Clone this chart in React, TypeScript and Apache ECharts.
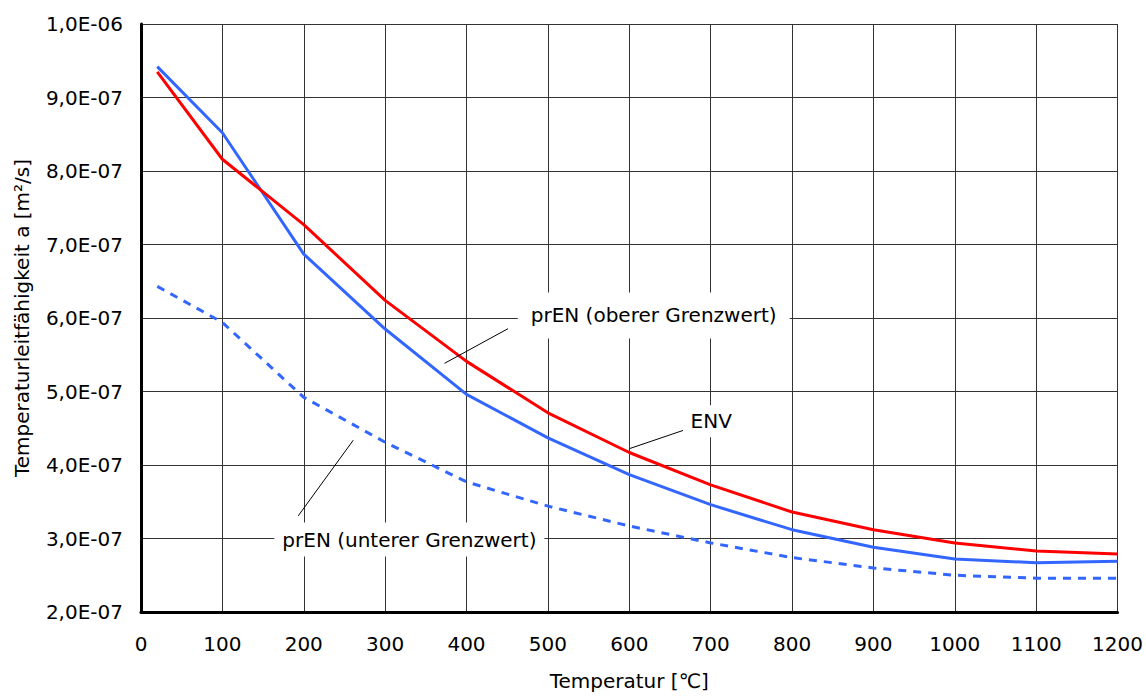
import React, { useEffect, useRef } from "react";
import * as echarts from "echarts";

const temperatures = [20, 100, 200, 300, 400, 500, 600, 700, 800, 900, 1000, 1100, 1200];
const envValues = [9.35e-7, 8.16e-7, 7.27e-7, 6.24e-7, 5.41e-7, 4.71e-7, 4.17e-7, 3.73e-7, 3.36e-7, 3.12e-7, 2.94e-7, 2.83e-7, 2.79e-7];
const prenUpperValues = [9.42e-7, 8.52e-7, 6.87e-7, 5.85e-7, 4.96e-7, 4.37e-7, 3.87e-7, 3.46e-7, 3.12e-7, 2.88e-7, 2.72e-7, 2.67e-7, 2.69e-7];
const prenLowerValues = [6.43e-7, 5.94e-7, 4.92e-7, 4.31e-7, 3.77e-7, 3.44e-7, 3.17e-7, 2.94e-7, 2.74e-7, 2.6e-7, 2.5e-7, 2.46e-7, 2.46e-7];

const seriesNames = ["ENV", "prEN (oberer Grenzwert)", "prEN (unterer Grenzwert)"];

// annotation anchors in data units: [textX, textY, lineFromX, lineFromY, lineToX, lineToY]
const annotationUpper = [630, 6.035e-7, 451, 5.855e-7, 373, 5.383e-7];
const annotationEnv = [700.7, 4.595e-7, 666, 4.47e-7, 600.6, 4.224e-7];
const annotationLower = [329.8, 2.985e-7, 193.2, 3.308e-7, 260.8, 4.337e-7];

const FONT = '"DejaVu Sans", "Liberation Sans", Arial, sans-serif';

function formatSci(v: number): string {
  const s = v.toExponential(1);
  const [m, e] = s.split("e");
  const exp = parseInt(e, 10);
  return m.replace(".", ",") + "E" + (exp < 0 ? "-" : "+") + String(Math.abs(exp)).padStart(2, "0");
}

export default function App() {
  const ref = useRef<HTMLDivElement>(null);

  useEffect(() => {
    if (!ref.current) return;
    const chart = echarts.init(ref.current, undefined, { renderer: "svg" });
    const pair = (xs: number[], ys: number[]) => xs.map((x, i) => [x, ys[i]]);
    chart.setOption({
      animation: false,
      backgroundColor: "#ffffff",
      grid: { left: 141, right: 28, top: 24, bottom: 83, containLabel: false },
      xAxis: {
        type: "value",
        min: 0,
        max: 1200,
        interval: 100,
        name: "Temperatur [℃]",
        nameLocation: "middle",
        nameGap: 59,
        nameTextStyle: { fontSize: 20, fontFamily: FONT, color: "#000" },
        axisLine: { show: true, lineStyle: { color: "#000", width: 3 } },
        axisTick: { show: false },
        axisLabel: {
          fontSize: 20,
          fontFamily: FONT,
          color: "#000",
          margin: 22,
          formatter: (v: number) => String(Math.round(v)),
        },
        splitLine: { show: true, lineStyle: { color: "#333", width: 1 } },
      },
      yAxis: {
        type: "value",
        min: 2e-7,
        max: 1e-6,
        interval: 1e-7,
        name: "Temperaturleitfähigkeit a [m²/s]",
        nameLocation: "middle",
        nameGap: 109,
        nameTextStyle: { fontSize: 20, fontFamily: FONT, color: "#000" },
        axisLine: { show: true, lineStyle: { color: "#000", width: 3 } },
        axisTick: { show: false },
        axisLabel: { fontSize: 20, fontFamily: FONT, color: "#000", margin: 18, formatter: formatSci },
        splitLine: { show: true, lineStyle: { color: "#333", width: 1 } },
      },
      series: [
        {
          name: seriesNames[2],
          type: "line",
          data: pair(temperatures, prenLowerValues),
          symbol: "none",
          lineStyle: { color: "#3366ff", width: 3, type: [8, 7] },
          itemStyle: { color: "#3366ff" },
          z: 2,
        },
        {
          name: seriesNames[1],
          type: "line",
          data: pair(temperatures, prenUpperValues),
          symbol: "none",
          lineStyle: { color: "#3366ff", width: 3 },
          itemStyle: { color: "#3366ff" },
          z: 3,
        },
        {
          name: seriesNames[0],
          type: "line",
          data: pair(temperatures, envValues),
          symbol: "none",
          lineStyle: { color: "#ff0000", width: 3 },
          itemStyle: { color: "#ff0000" },
          z: 4,
        },
      ],
    });

    const px = (x: number, y: number) =>
      chart.convertToPixel({ xAxisIndex: 0, yAxisIndex: 0 }, [x, y]) as number[];

    const makeAnnotation = (a: number[], text: string, padding: number[]) => {
      const t = px(a[0], a[1]);
      const p1 = px(a[2], a[3]);
      const p2 = px(a[4], a[5]);
      return [
        {
          type: "line",
          z: 100,
          shape: { x1: p1[0], y1: p1[1], x2: p2[0], y2: p2[1] },
          style: { stroke: "#000", lineWidth: 1 },
        },
        {
          type: "text",
          z: 101,
          x: t[0],
          y: t[1],
          style: {
            text,
            fill: "#000",
            fontSize: 20,
            fontFamily: FONT,
            align: "center",
            verticalAlign: "middle",
            backgroundColor: "#ffffff",
            padding,
          },
        },
      ];
    };

    chart.setOption({
      graphic: [
        ...makeAnnotation(annotationUpper, seriesNames[1], [7, 13, 19, 13]),
        ...makeAnnotation(annotationEnv, seriesNames[0], [6, 4, 6, 4]),
        ...makeAnnotation(annotationLower, seriesNames[2], [7, 8, 7, 8]),
      ],
    });

    return () => chart.dispose();
  }, []);

  return (
    <div
      ref={ref}
      style={{ position: "absolute", left: 0, top: 0, width: 1146, height: 696 }}
    />
  );
}
